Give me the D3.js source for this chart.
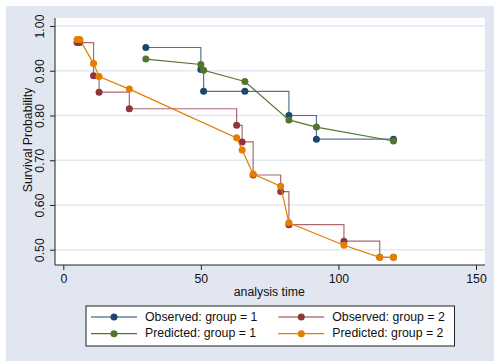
<!DOCTYPE html>
<html>
<head>
<meta charset="utf-8">
<script src="https://cdn.jsdelivr.net/npm/d3@7"></script>
<style>
  html, body { margin: 0; padding: 0; background: #fff; }
  svg { display: block; font-family: "Liberation Sans", Arial, sans-serif; }
</style>
</head>
<body>
<div id="chart"></div>
<script>
// observed (Kaplan-Meier) and predicted (Cox) survival, by group
const obsTime1 = [30, 50, 51, 66, 82, 92, 120];
const obsSurv1 = [0.952, 0.903, 0.854, 0.854, 0.800, 0.747, 0.747];
const predTime1 = [30, 50, 51, 66, 82, 92, 120];
const predSurv1 = [0.926, 0.914, 0.901, 0.876, 0.790, 0.774, 0.743];

const obsTime2 = [5, 6, 11, 13, 24, 63, 65, 69, 79, 82, 102, 115, 120];
const obsSurv2 = [0.963, 0.963, 0.889, 0.852, 0.815, 0.778, 0.741, 0.667, 0.630, 0.556, 0.519, 0.483, 0.483];
const predTime2 = [5, 6, 11, 13, 24, 63, 65, 69, 79, 82, 102, 115, 120];
const predSurv2 = [0.970, 0.970, 0.916, 0.887, 0.859, 0.750, 0.723, 0.669, 0.642, 0.560, 0.510, 0.483, 0.483];

const xTicks = [0, 50, 100, 150];
const yTicks = [0.5, 0.6, 0.7, 0.8, 0.9, 1.0];

const seriesNames = ["Observed: group = 1", "Observed: group = 2", "Predicted: group = 1", "Predicted: group = 2"];

const navy = "#1a476f", maroon = "#90353b", green = "#55752f", orange = "#e37e00";
const bg = "#e1e6f0";
const fs = 12.3;

const width = 494, height = 361;

const svg = d3.select("#chart").append("svg")
  .attr("width", width)
  .attr("height", height);

// graph region
svg.append("rect").attr("x", 6).attr("y", 6).attr("width", width - 6).attr("height", height - 6).attr("fill", bg);

// plot region
const plot = { left: 55, right: 485, top: 18, bottom: 265 };
svg.append("rect")
  .attr("x", plot.left).attr("y", plot.top)
  .attr("width", plot.right - plot.left).attr("height", plot.bottom - plot.top)
  .attr("fill", "#fff");

const x = d3.scaleLinear().domain([0, 150]).range([63.3, 476]);
const y = d3.scaleLinear().domain([0.5, 1.0]).range([249.7, 26]);

// gridlines
svg.append("g").selectAll("line").data(yTicks).join("line")
  .attr("x1", plot.left).attr("x2", plot.right)
  .attr("y1", d => y(d)).attr("y2", d => y(d))
  .attr("stroke", "#e3e8f1").attr("stroke-width", 1.5);

// y axis
const yAxis = svg.append("g")
  .attr("transform", `translate(${plot.left},0)`)
  .call(d3.axisLeft(y).tickValues(yTicks).tickSize(5).tickSizeOuter(0).tickFormat(d3.format(".2f")));
yAxis.select(".domain").attr("d", `M0,${plot.top}V${plot.bottom}`).attr("stroke", "#222");
yAxis.selectAll(".tick line").attr("stroke", "#222");
yAxis.selectAll(".tick text")
  .attr("transform", "rotate(-90)")
  .attr("x", 0).attr("y", -11).attr("dy", 0)
  .attr("text-anchor", "middle")
  .attr("font-size", fs).attr("fill", "#111");

// x axis
const xAxis = svg.append("g")
  .attr("transform", `translate(0,${plot.bottom})`)
  .call(d3.axisBottom(x).tickValues(xTicks).tickSize(5).tickSizeOuter(0));
xAxis.select(".domain").attr("d", `M${plot.left},0H${plot.right}`).attr("stroke", "#222");
xAxis.selectAll(".tick line").attr("stroke", "#222");
xAxis.selectAll(".tick text")
  .attr("y", 18).attr("dy", 0)
  .attr("font-size", fs).attr("fill", "#111");

// axis titles
svg.append("text")
  .attr("transform", "translate(31.5,140) rotate(-90)")
  .attr("text-anchor", "middle")
  .attr("font-size", fs).attr("fill", "#111")
  .text("Survival Probability");
svg.append("text")
  .attr("x", 269.3).attr("y", 295.5)
  .attr("text-anchor", "middle")
  .attr("font-size", fs).attr("fill", "#111")
  .text("analysis time");

function zip(ts, ss) { return ts.map((t, i) => ({ t, s: ss[i] })); }

const series = [
  { data: zip(obsTime1, obsSurv1), color: navy, step: true },
  { data: zip(obsTime2, obsSurv2), color: maroon, step: true },
  { data: zip(predTime1, predSurv1), color: green, step: false },
  { data: zip(predTime2, predSurv2), color: orange, step: false }
];

const g = svg.append("g");
series.forEach(sr => {
  const line = d3.line()
    .x(d => x(d.t)).y(d => y(d.s))
    .curve(sr.step ? d3.curveStepAfter : d3.curveLinear);
  g.append("path")
    .datum(sr.data)
    .attr("d", line)
    .attr("fill", "none")
    .attr("stroke", sr.color)
    .attr("stroke-width", 1.2)
    .attr("stroke-opacity", sr.step ? 0.75 : 1);
  g.append("g").selectAll("circle").data(sr.data).join("circle")
    .attr("cx", d => x(d.t)).attr("cy", d => y(d.s))
    .attr("r", 3.5)
    .attr("fill", sr.color);
});

// legend
const legend = svg.append("g");
legend.append("rect")
  .attr("x", 86).attr("y", 306).attr("width", 368.5).attr("height", 40)
  .attr("fill", "#fff").attr("stroke", "#222").attr("stroke-width", 1);

const legendItems = [
  { name: seriesNames[0], color: navy, col: 0, row: 0 },
  { name: seriesNames[1], color: maroon, col: 1, row: 0 },
  { name: seriesNames[2], color: green, col: 0, row: 1 },
  { name: seriesNames[3], color: orange, col: 1, row: 1 }
];
const colX = [91, 278.3];
const rowY = [317, 333.7];
legendItems.forEach(it => {
  const lx = colX[it.col], ly = rowY[it.row];
  legend.append("line")
    .attr("x1", lx).attr("x2", lx + 46)
    .attr("y1", ly).attr("y2", ly)
    .attr("stroke", it.color).attr("stroke-width", 1.2);
  legend.append("circle")
    .attr("cx", lx + 23).attr("cy", ly).attr("r", 3.5)
    .attr("fill", it.color);
  legend.append("text")
    .attr("x", lx + 54).attr("y", ly + 3.7)
    .attr("font-size", fs).attr("fill", "#111")
    .text(it.name);
});
</script>
</body>
</html>
